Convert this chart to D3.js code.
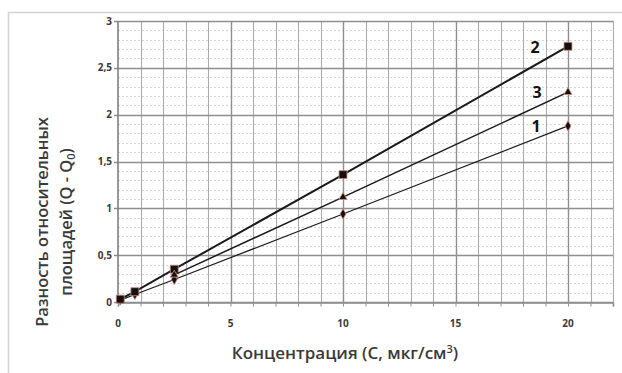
<!DOCTYPE html>
<html>
<head>
<meta charset="utf-8">
<script src="https://cdn.jsdelivr.net/npm/d3@7"></script>
<style>
  body { margin: 0; background: #fff; }
  svg text { font-family: "Open Sans", "Noto Sans", sans-serif; fill: #3a3a3a; }
</style>
</head>
<body>
<svg id="chart" width="622" height="373"></svg>
<script>
// concentration (C, µg/cm3)
const conc = [0.1, 0.75, 2.5, 10, 20];
const conc3 = [2.5, 10, 20];
// (Q - Q0) per series
const series1 = [0.02, 0.08, 0.24, 0.94, 1.88];
const series2 = [0.03, 0.11, 0.35, 1.36, 2.73];
const series3 = [0.29, 1.12, 2.24];
const seriesNames = ["1", "2", "3"];
const xTicks = [0, 5, 10, 15, 20];
const yTicks = [0, 0.5, 1, 1.5, 2, 2.5, 3];

const svg = d3.select("#chart");
const m = { left: 118, right: 9, top: 21, bottom: 71 };
const W = 622, H = 373;

// outer chart frame
svg.append("rect")
  .attr("x", 8.5).attr("y", 12.5)
  .attr("width", 640).attr("height", 400)
  .attr("fill", "none").attr("stroke", "#d4d4d4").attr("stroke-width", 1.5);

const x = d3.scaleLinear().domain([0, 22]).range([m.left, W - m.right]);
const y = d3.scaleLinear().domain([0, 3]).range([H - m.bottom, m.top]);

const fmt = d => String(d).replace(".", ",");

// minor horizontal dotted grid
svg.append("g").selectAll("line")
  .data(d3.range(1, 30).filter(i => i % 5 !== 0).map(i => i / 10))
  .join("line")
  .attr("x1", x(0)).attr("x2", x(22))
  .attr("y1", d => Math.round(y(d)) + 0.5).attr("y2", d => Math.round(y(d)) + 0.5)
  .attr("stroke", "#d6d6d6").attr("stroke-dasharray", "2,2");

// vertical grid every 1 unit
svg.append("g").selectAll("line")
  .data(d3.range(1, 23))
  .join("line")
  .attr("x1", d => Math.round(x(d)) + 0.5).attr("x2", d => Math.round(x(d)) + 0.5)
  .attr("y1", y(0)).attr("y2", y(3))
  .attr("stroke", d => d % 5 === 0 ? "#8f8f8f" : "#ababab")
  .attr("stroke-width", d => d % 5 === 0 ? 1.4 : 1.1);

// major horizontal grid
svg.append("g").selectAll("line")
  .data(yTicks)
  .join("line")
  .attr("x1", x(0) - 4).attr("x2", x(22))
  .attr("y1", d => Math.round(y(d)) + 0.5).attr("y2", d => Math.round(y(d)) + 0.5)
  .attr("stroke", "#8f8f8f").attr("stroke-width", 1.6);

// axes
svg.append("line")
  .attr("x1", x(0)).attr("x2", x(0)).attr("y1", y(0)).attr("y2", y(3))
  .attr("stroke", "#7f7f7f").attr("stroke-width", 1.6);

const xAxis = svg.append("g")
  .attr("transform", `translate(0,${Math.round(y(0)) + 0.5})`)
  .call(d3.axisBottom(x).tickValues(d3.range(0, 23)).tickSize(4).tickFormat(""));
xAxis.select(".domain").attr("stroke", "#8f8f8f").attr("stroke-width", 1.6);
xAxis.selectAll(".tick line").attr("stroke", "#8f8f8f");

svg.append("g").selectAll("text")
  .data(xTicks)
  .join("text")
  .attr("x", d => x(d)).attr("y", y(0) + 25)
  .attr("text-anchor", "middle")
  .attr("font-size", 10).attr("font-weight", 700)
  .text(fmt);

svg.append("g").selectAll("text")
  .data(yTicks)
  .join("text")
  .attr("x", x(0) - 6).attr("y", d => y(d) + 3.5)
  .attr("text-anchor", "end")
  .attr("font-size", 10).attr("font-weight", 700)
  .text(fmt);

// axis titles
svg.append("text")
  .attr("x", 345).attr("y", 359)
  .attr("text-anchor", "middle")
  .attr("font-size", 17).attr("font-weight", 600)
  .html('Концентрация (С, мкг/см<tspan dy="-6" font-size="11">3</tspan><tspan dy="6">)</tspan>');

const yl = svg.append("text")
  .attr("transform", "translate(48,222) rotate(-90)")
  .attr("text-anchor", "middle")
  .attr("font-size", 16.5).attr("font-weight", 600);
yl.append("tspan").attr("x", 0).attr("dy", 0).text("Разность относительных");
yl.append("tspan").attr("x", 0).attr("dy", 24).text("площадей (Q - Q")
  .append("tspan").attr("font-size", 11).attr("dy", 3).text("0");
yl.append("tspan").attr("dy", -3).text(")");

// series
const data = [
  { name: seriesNames[0], xs: conc, ys: series1, w: 1.2, sym: d3.symbolDiamond, size: 30, dx: -32, dy: 6 },
  { name: seriesNames[1], xs: conc, ys: series2, w: 2, sym: d3.symbolSquare, size: 64, dx: -33, dy: 7 },
  { name: seriesNames[2], xs: conc3, ys: series3, w: 1.5, sym: d3.symbolTriangle, size: 28, dx: -31, dy: 6 }
];

const line = d3.line().x(d => x(d[0])).y(d => y(d[1]));

data.forEach(s => {
  const pts = s.xs.map((c, i) => [c, s.ys[i]]);
  svg.append("path")
    .attr("d", line(pts))
    .attr("fill", "none").attr("stroke", "#1a1a1a").attr("stroke-width", s.w);
  svg.append("g").selectAll("path")
    .data(pts)
    .join("path")
    .attr("transform", d => `translate(${x(d[0])},${y(d[1])})`)
    .attr("d", d3.symbol().type(s.sym).size(s.size))
    .attr("fill", "#111").attr("stroke", "#d98a80").attr("stroke-width", 0.8);
  const last = pts[pts.length - 1];
  svg.append("text")
    .attr("x", x(last[0]) + s.dx).attr("y", y(last[1]) + s.dy)
    .attr("text-anchor", "middle")
    .attr("font-size", 16).attr("font-weight", 700)
    .style("fill", "#111")
    .text(s.name);
});
</script>
</body>
</html>
